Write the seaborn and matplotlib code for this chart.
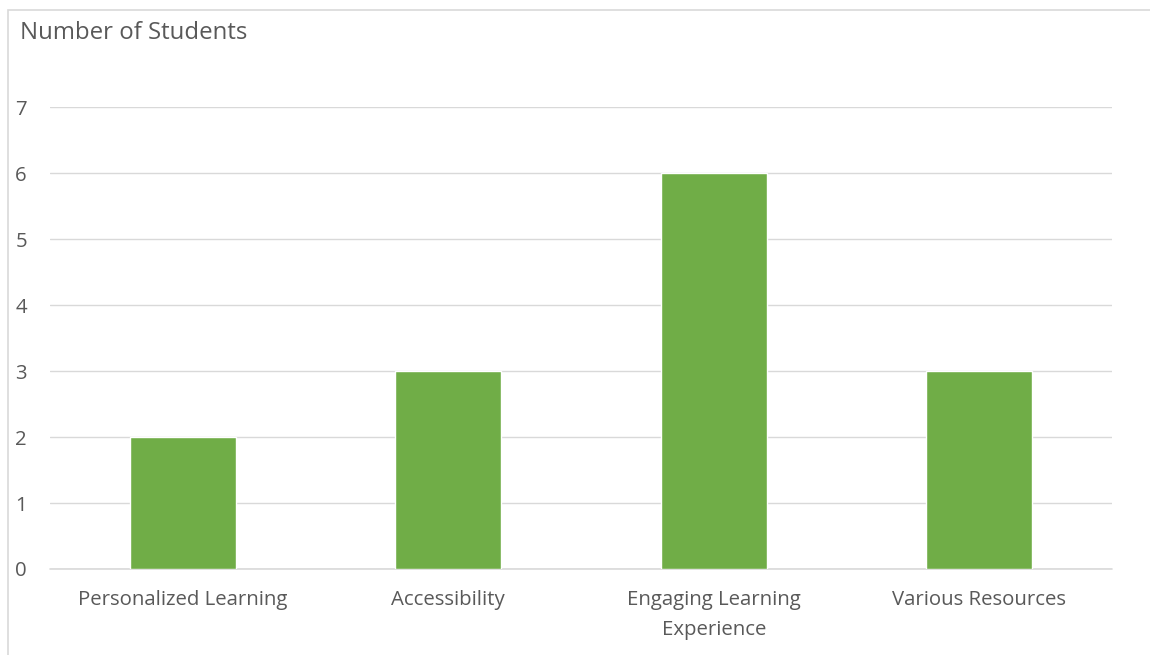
import matplotlib.pyplot as plt
import seaborn as sns
import pandas as pd
from matplotlib.patches import Rectangle

sns.set_style("white")
plt.rcParams['font.family'] = ['Open Sans', 'DejaVu Sans']

categories = ["Personalized Learning", "Accessibility",
              "Engaging Learning\nExperience", "Various Resources"]
students = [2, 3, 6, 3]

df = pd.DataFrame({"cat": categories, "n": students})

GREEN = "#70AD47"
GREY = "#595959"

fig = plt.figure(figsize=(11.5, 6.55), dpi=100)
ax = fig.add_axes([0.0435, 0.1313, 0.9235, 0.7053])

sns.barplot(data=df, x="cat", y="n", color=GREEN, width=0.4,
            saturation=1, ax=ax)

ax.set_ylim(0, 7)
ax.set_xlim(-0.5, 3.5)
ax.set_yticks(range(8))
ax.yaxis.grid(True, color="#D9D9D9", linewidth=1)
ax.set_axisbelow(True)
for s in ax.spines.values():
    s.set_visible(False)
# baseline at zero, drawn unclipped so it is not cut in half
ax.axhline(0, color="#D9D9D9", linewidth=1.2, clip_on=False, zorder=0.5)
ax.tick_params(axis="both", length=0, labelsize=14.7, colors=GREY)
ax.tick_params(axis="y", pad=25)
ax.tick_params(axis="x", pad=15)
for lbl in ax.get_yticklabels():
    lbl.set_horizontalalignment("left")
for lbl in ax.get_xticklabels():
    lbl.set_linespacing(1.7)
ax.set_xlabel("")
ax.set_ylabel("")

fig.text(20 / 1150, 1 - 33 / 655, "Number of Students", fontsize=17.3,
         color=GREY, va="center", ha="left")

fig.patches.append(Rectangle((8 / 1150, -0.05), 1.2, 1 - 10 / 655 + 0.05,
                             transform=fig.transFigure, fill=False,
                             edgecolor="#D9D9D9", linewidth=1.2))

fig.savefig("out.png", dpi=100)
